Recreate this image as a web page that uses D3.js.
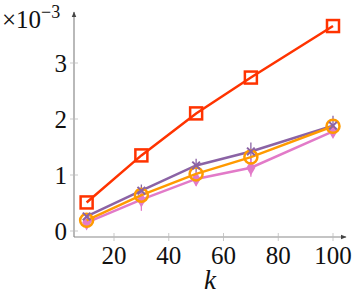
<!DOCTYPE html>
<html>
<head>
<meta charset="utf-8">
<script src="https://cdn.jsdelivr.net/npm/d3@7"></script>
<style>
  body { margin: 0; background: #fff; }
</style>
</head>
<body>
<div id="chart"></div>
<script>
// Data (values in units of 1e-3)
var kValues = [10, 30, 50, 70, 100];
var redVals = [0.51, 1.35, 2.10, 2.74, 3.66];
var purpleVals = [0.26, 0.72, 1.17, 1.42, 1.88];
var purpleErr = [0.06, 0.11, 0.12, 0.16, 0.18];
var orangeVals = [0.19, 0.64, 1.02, 1.32, 1.87];
var pinkVals = [0.15, 0.56, 0.93, 1.13, 1.78];
var pinkErr = [0.1, 0.2, 0.12, 0.16, 0.1];
var xTicks = [20, 40, 60, 80, 100];
var yTicks = [0, 1, 2, 3];

var width = 357;
var height = 295;
var fontFam = "'Liberation Serif', 'DejaVu Serif', serif";

var svg = d3.select("#chart")
  .append("svg")
  .attr("width", width)
  .attr("height", height)
  .attr("font-family", fontFam);

var xScale = d3.scaleLinear().domain([0, 100]).range([59.25, 333]);
var yScale = d3.scaleLinear().domain([0, 3]).range([231, 63]);

var axisColor = "#8a8a8a";

// arrow marker
svg.append("defs").append("marker")
  .attr("id", "arrow")
  .attr("viewBox", "0 0 10 10")
  .attr("refX", 9).attr("refY", 5)
  .attr("markerWidth", 5).attr("markerHeight", 5)
  .attr("orient", "auto")
  .append("path")
  .attr("d", "M0,1 L10,5 L0,9 z")
  .attr("fill", "#444");

// axes
svg.append("line")
  .attr("x1", 74).attr("y1", 237).attr("x2", 346).attr("y2", 237)
  .attr("stroke", axisColor).attr("stroke-width", 1.2)
  .attr("marker-end", "url(#arrow)");
svg.append("line")
  .attr("x1", 74).attr("y1", 237).attr("x2", 74).attr("y2", 12)
  .attr("stroke", axisColor).attr("stroke-width", 1.2)
  .attr("marker-end", "url(#arrow)");

// ticks + labels
xTicks.forEach(function(t) {
  svg.append("line")
    .attr("x1", xScale(t)).attr("x2", xScale(t))
    .attr("y1", 233).attr("y2", 241)
    .attr("stroke", "#bbb").attr("stroke-width", 0.8);
  svg.append("text")
    .attr("x", xScale(t)).attr("y", 264)
    .attr("text-anchor", "middle")
    .attr("font-family", fontFam)
    .attr("font-size", 25)
    .attr("fill", "#111")
    .text(t);
});
yTicks.forEach(function(t) {
  svg.append("line")
    .attr("x1", 70).attr("x2", 78)
    .attr("y1", yScale(t)).attr("y2", yScale(t))
    .attr("stroke", "#bbb").attr("stroke-width", 0.8);
  svg.append("text")
    .attr("x", 67).attr("y", yScale(t) + 9)
    .attr("text-anchor", "end")
    .attr("font-family", fontFam)
    .attr("font-size", 25)
    .attr("fill", "#111")
    .text(t);
});

// exponent label
var expo = svg.append("text")
  .attr("x", 2).attr("y", 28)
  .attr("font-family", fontFam)
  .attr("font-size", 25)
  .attr("fill", "#111");
expo.append("tspan").text("\u00d710");
expo.append("tspan").attr("dy", -10).attr("font-size", 18).text("\u22123");

// x label
svg.append("text")
  .attr("x", 210).attr("y", 289)
  .attr("text-anchor", "middle")
  .attr("font-family", fontFam)
  .attr("font-size", 27)
  .attr("font-style", "italic")
  .attr("fill", "#111")
  .text("k");

var line = d3.line()
  .x(function(d, i) { return xScale(kValues[i]); })
  .y(function(d) { return yScale(d); });

function drawLine(vals, color) {
  svg.append("path")
    .datum(vals)
    .attr("d", line)
    .attr("fill", "none")
    .attr("stroke", color)
    .attr("stroke-width", 2.5);
}

function drawErr(vals, errs, color) {
  vals.forEach(function(v, i) {
    svg.append("line")
      .attr("x1", xScale(kValues[i])).attr("x2", xScale(kValues[i]))
      .attr("y1", yScale(v - errs[i])).attr("y2", yScale(v + errs[i]))
      .attr("stroke", color).attr("stroke-width", 1.3);
  });
}

var purple = "#8b63a5";
var pink = "#e27ac8";
var orange = "#ff9a00";
var red = "#ff3300";

// purple series
drawErr(purpleVals, purpleErr, purple);
drawLine(purpleVals, purple);

// pink series
drawErr(pinkVals, pinkErr, pink);
drawLine(pinkVals, pink);
svg.selectAll(".pinkPt")
  .data(pinkVals).enter()
  .append("path")
  .attr("d", d3.symbol().type(d3.symbolDiamond).size(70))
  .attr("transform", function(d, i) {
    return "translate(" + xScale(kValues[i]) + "," + yScale(d) + ")";
  })
  .attr("fill", pink);

// orange series
drawLine(orangeVals, orange);
svg.selectAll(".orangePt")
  .data(orangeVals).enter()
  .append("circle")
  .attr("cx", function(d, i) { return xScale(kValues[i]); })
  .attr("cy", function(d) { return yScale(d); })
  .attr("r", 6.5)
  .attr("fill", "none")
  .attr("stroke", orange)
  .attr("stroke-width", 2.5);

// purple markers (x)
svg.selectAll(".purplePt")
  .data(purpleVals).enter()
  .append("path")
  .attr("d", d3.symbol().type(d3.symbolX).size(40))
  .attr("transform", function(d, i) {
    return "translate(" + xScale(kValues[i]) + "," + yScale(d) + ")";
  })
  .attr("fill", "none")
  .attr("stroke", purple)
  .attr("stroke-width", 2);

// red series
drawLine(redVals, red);
svg.selectAll(".redPt")
  .data(redVals).enter()
  .append("rect")
  .attr("x", function(d, i) { return xScale(kValues[i]) - 6; })
  .attr("y", function(d) { return yScale(d) - 6; })
  .attr("width", 12).attr("height", 12)
  .attr("fill", "none")
  .attr("stroke", red)
  .attr("stroke-width", 2.5);
</script>
</body>
</html>
